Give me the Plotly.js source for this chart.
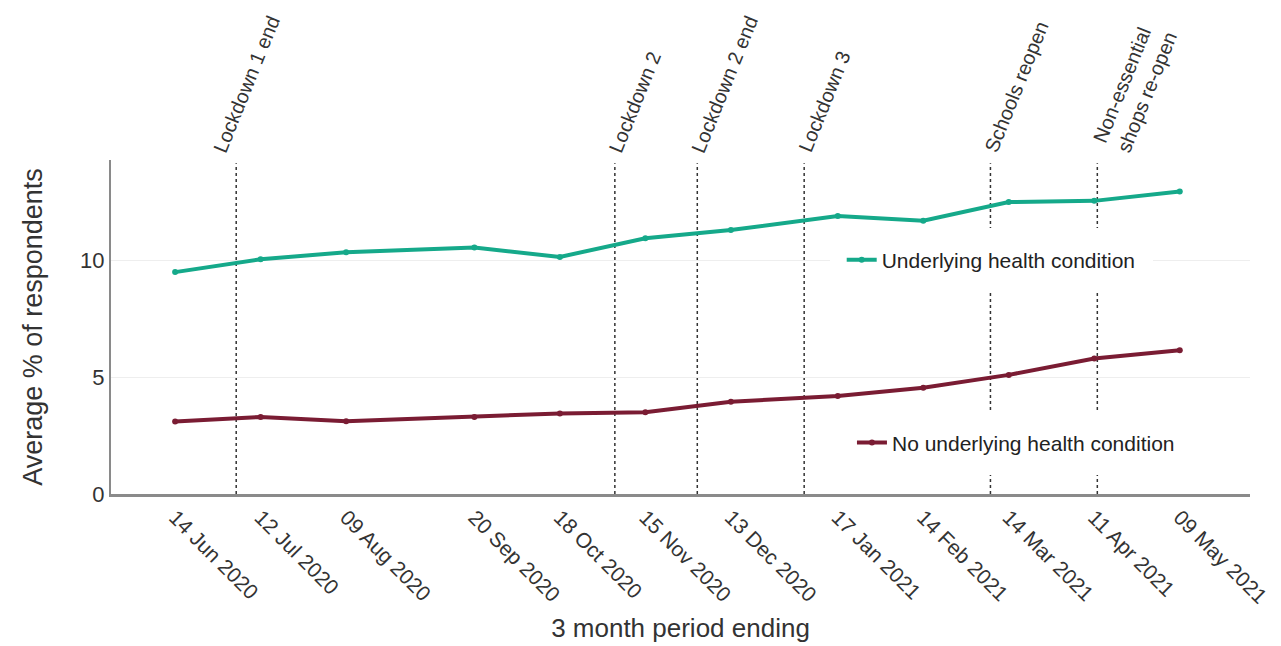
<!DOCTYPE html>
<html>
<head>
<meta charset="utf-8">
<script src="https://cdn.plot.ly/plotly-3.0.1.min.js"></script>
<style>html,body{margin:0;padding:0;background:#fff;}#chart{width:1281px;height:646px;}</style>
</head>
<body>
<div id="chart"></div>
<script>
// Period end dates (3 month period ending)
const periodDates = ['2020-06-14','2020-07-12','2020-08-09','2020-09-20','2020-10-18','2020-11-15','2020-12-13','2021-01-17','2021-02-14','2021-03-14','2021-04-11','2021-05-09'];
const periodLabels = ['14 Jun 2020','12 Jul 2020','09 Aug 2020','20 Sep 2020','18 Oct 2020','15 Nov 2020','13 Dec 2020','17 Jan 2021','14 Feb 2021','14 Mar 2021','11 Apr 2021','09 May 2021'];
// Average % of respondents
const underlyingCondition = [9.5, 10.05, 10.35, 10.55, 10.15, 10.95, 11.3, 11.9, 11.7, 12.5, 12.55, 12.95];
const noUnderlyingCondition = [3.1, 3.3, 3.12, 3.3, 3.45, 3.5, 3.95, 4.2, 4.55, 5.1, 5.8, 6.15];
// Events
const eventDates = ['2020-07-04','2020-11-05','2020-12-02','2021-01-06','2021-03-08','2021-04-12'];
const eventLabels = ['Lockdown 1 end','Lockdown 2','Lockdown 2 end','Lockdown 3','Schools reopen','Non-essential<br>shops re-open'];
const yTicks = [0, 5, 10];

// label placement (style only)
const labelShift = [-30, -13, -13, -13, -13, -11];

const GREEN = '#15a98a';
const MAROON = '#7a1c33';
const FONT = 'Liberation Sans, Arial, sans-serif';

const traces = [
  {x: periodDates, y: underlyingCondition, name: 'Underlying health condition', type: 'scatter', mode: 'lines+markers',
   line: {color: GREEN, width: 4}, marker: {color: GREEN, size: 6}, legend: 'legend'},
  {x: periodDates, y: noUnderlyingCondition, name: 'No underlying health condition', type: 'scatter', mode: 'lines+markers',
   line: {color: MAROON, width: 4}, marker: {color: MAROON, size: 6}, legend: 'legend2'}
];

const shapes = eventDates.map(d => ({
  type: 'line', xref: 'x', yref: 'paper', x0: d, x1: d, y0: 0, y1: 0.99,
  line: {color: '#333', width: 1.5, dash: '3px,3px'}, layer: 'below'
}));

const annotations = eventDates.map((d, i) => ({
  x: d, xref: 'x', y: 1, yref: 'paper', text: eventLabels[i], showarrow: false,
  textangle: -68, xanchor: 'left', yanchor: 'bottom', align: 'left',
  xshift: labelShift[i], yshift: 2,
  font: {family: FONT, size: 20, color: '#333'}
}));

const layout = {
  width: 1281, height: 646,
  paper_bgcolor: '#fff', plot_bgcolor: '#fff',
  margin: {l: 111, r: 31, t: 160, b: 152},
  font: {family: FONT, color: '#333'},
  xaxis: {
    type: 'date', range: ['2020-05-24', '2021-06-01'],
    tickvals: periodDates, ticktext: periodLabels, tickangle: 45,
    tickfont: {family: FONT, size: 21, color: '#333'},
    showgrid: false, zeroline: false, showline: true, linecolor: '#8a8a8a', linewidth: 3, ticks: '',
    title: {text: '3 month period ending', font: {family: FONT, size: 26, color: '#333'}, standoff: 12}
  },
  yaxis: {
    range: [0, 14.3], tickvals: yTicks, ticktext: yTicks.map(String),
    tickfont: {family: FONT, size: 22, color: '#333'},
    showgrid: true, gridcolor: '#eeeeee', gridwidth: 1, zeroline: false,
    showline: true, linecolor: '#8a8a8a', linewidth: 2, ticks: '',
    title: {text: 'Average % of respondents', font: {family: FONT, size: 27, color: '#333'}, standoff: 30}
  },
  legend: {x: 0.631, y: 0.70, xanchor: 'left', yanchor: 'middle', bgcolor: '#fff', bordercolor: '#fff', borderwidth: 12,
    font: {family: FONT, size: 21, color: '#222'}},
  legend2: {x: 0.640, y: 0.153, xanchor: 'left', yanchor: 'middle', bgcolor: '#fff', bordercolor: '#fff', borderwidth: 12,
    font: {family: FONT, size: 21, color: '#222'}},
  shapes: shapes,
  annotations: annotations,
  showlegend: true
};

Plotly.newPlot('chart', traces, layout, {displayModeBar: false, staticPlot: true});
</script>
</body>
</html>
